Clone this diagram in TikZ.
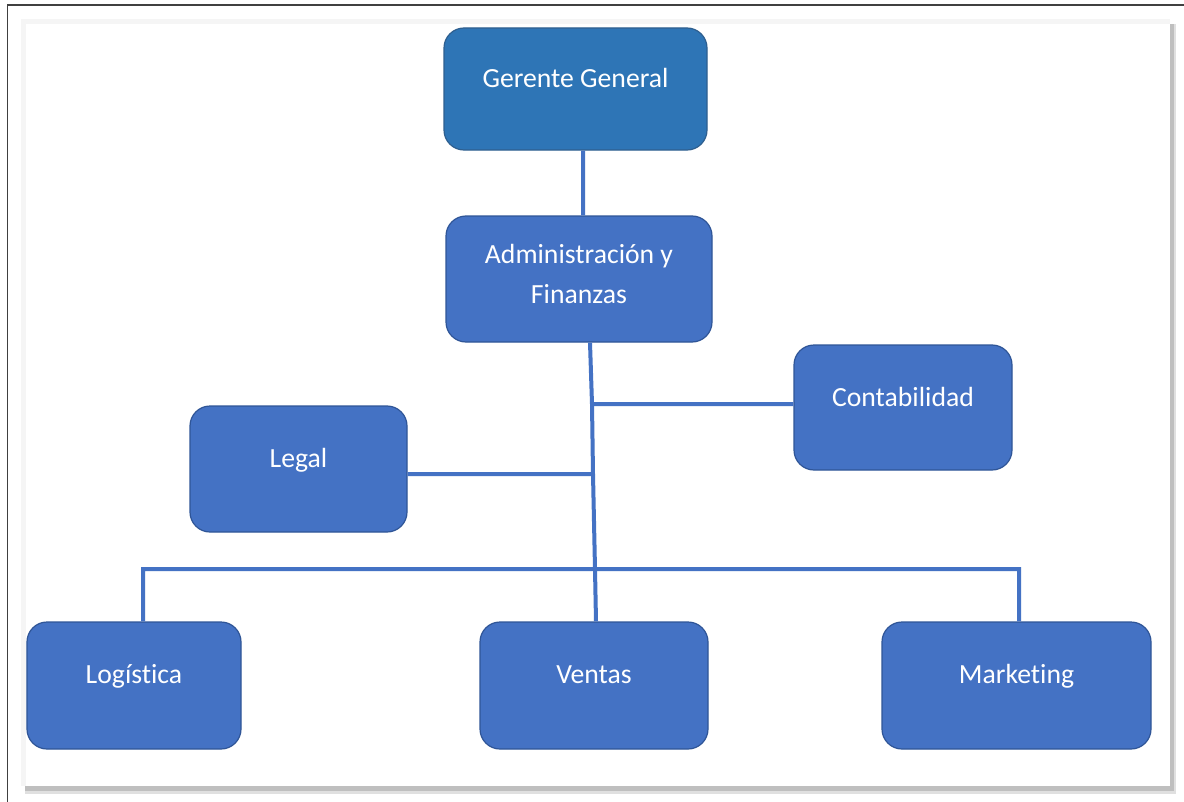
\documentclass[tikz,border=0pt]{standalone}
\usepackage{fontspec}
\setmainfont{Carlito}[Ligatures={NoCommon}]
\definecolor{boxblue}{HTML}{4472C4}
\definecolor{topblue}{HTML}{2E75B6}
\definecolor{boxline}{HTML}{2F5597}
\definecolor{topline}{HTML}{2E5F8F}
\definecolor{lineblue}{HTML}{4472C4}
\begin{document}
\begin{tikzpicture}[x=1bp,y=-1bp,
  box/.style={draw=boxline,line width=1.2bp,rounded corners=20bp,fill=boxblue,inner sep=0pt},
  txt/.style={text=white,font=\fontsize{27.8}{41}\selectfont,align=center},
  conn/.style={draw=lineblue,line width=4bp}]
\useasboundingbox (0,0) rectangle (1184,802);
\fill[white] (0,0) rectangle (1184,802);
% frame
\draw[black!75,line width=1.5bp] (7.5,802) -- (7.5,5) -- (1184,5);
% panel shadow
\fill[black!12] (25,24) rectangle (1176,794);
\fill[black!25] (25,24) rectangle (1174,791);
\fill[white] (21,19) rectangle (1170,786);
\fill[black!4] (21,19) rectangle (1170,24);
\fill[black!4] (21,19) rectangle (26,786);
% boxes
\node[box,draw=topline,fill=topblue,minimum width=263bp,minimum height=122bp,
  label={[txt,yshift=11bp]center:Gerente General}] (gg) at (575.5,89) {};
\node[box,minimum width=266bp,minimum height=126bp,
  label={[txt,yshift=5bp]center:Administración y\\Finanzas}] (af) at (579,279) {};
\node[box,minimum width=218bp,minimum height=125bp,
  label={[txt,yshift=11bp]center:Contabilidad}] (ct) at (903,407.5) {};
\node[box,minimum width=217bp,minimum height=126bp,
  label={[txt,yshift=9bp]center:Legal}] (lg) at (298.5,469) {};
\node[box,minimum width=214bp,minimum height=127bp,
  label={[txt,yshift=9bp]center:Logística}] (lo) at (134,685.5) {};
\node[box,minimum width=228bp,minimum height=127bp,
  label={[txt,yshift=11bp]center:Ventas}] (ve) at (594,685.5) {};
\node[box,minimum width=269bp,minimum height=127bp,
  label={[txt,yshift=9bp]center:Marketing}] (mk) at (1016.5,685.5) {};
% junctions
\coordinate (jc) at (592,404);
\coordinate (jl) at (593,474);
\coordinate (jb) at (595,569);
\coordinate (bl) at (143,569);
\coordinate (br) at (1019,569);
% connectors
\draw[conn] ([xshift=7.5bp]gg.south) -- ([xshift=4bp]af.north);
\draw[conn] ([xshift=11bp]af.south) -- (jc) -- (jl) -- (jb) -- ([xshift=2bp]ve.north);
\draw[conn] (jc) -- ([yshift=3.5bp]ct.west);
\draw[conn] ([yshift=-5bp]lg.east) -- (jl);
\draw[conn,line join=miter] ([xshift=9bp]lo.north) -- (bl) -- (br) -- ([xshift=2.5bp]mk.north);
\end{tikzpicture}
\end{document}
